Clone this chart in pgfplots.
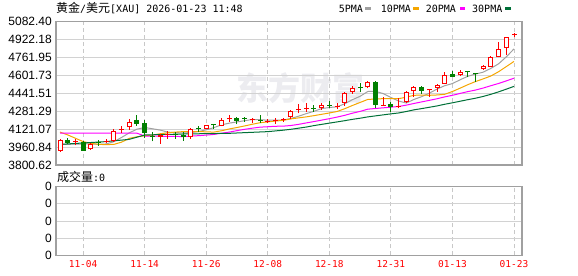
\documentclass[border=0pt]{standalone}
\usepackage{fontspec}
\setmainfont{Liberation Sans}
\newfontfamily\cjk{Noto Sans CJK SC}
\newfontfamily\mono{DejaVu Sans Mono}
\usepackage{pgfplots}
\pgfplotsset{compat=1.18}
\usepackage{pgfplotstable}

\definecolor{cred}{RGB}{255,0,0}
\definecolor{cgreen}{RGB}{0,128,0}
\definecolor{maA}{RGB}{160,160,160}
\definecolor{maB}{RGB}{245,166,0}
\definecolor{maC}{RGB}{255,0,255}
\definecolor{maD}{RGB}{0,112,56}
\definecolor{gridh}{RGB}{210,210,210}
\definecolor{gridv}{RGB}{200,200,200}
\definecolor{frame}{RGB}{160,160,160}
\definecolor{wm}{RGB}{236,236,240}

% up candles: x open high low close
\pgfplotstableread{
x o h l c
0 3930 4035 3915 4025
2 4005 4031 3977 4009
4 3941 3995 3935 3986
6 4010 4035 3995 4019
7 4019 4120 4010 4108
8 4114 4150 4090 4123
9 4139 4210 4115 4189
13 4049 4077 3990 4065
14 4066 4107 4035 4072
17 4048 4131 4037 4122
19 4126 4160 4120 4155
21 4153 4221 4147 4206
22 4209 4247 4187 4215
25 4202 4217 4172 4207
27 4187 4212 4172 4192
28 4192 4217 4167 4199
29 4202 4223 4187 4214
30 4227 4293 4209 4281
31 4292 4347 4263 4299
32 4302 4353 4277 4307
34 4308 4359 4293 4335
36 4322 4359 4299 4329
37 4353 4454 4329 4442
38 4454 4508 4436 4490
40 4496 4555 4487 4543
42 4332 4412 4327 4337
44 4322 4397 4307 4329
45 4362 4463 4356 4451
46 4460 4508 4412 4496
48 4467 4478 4412 4472
49 4493 4526 4457 4514
50 4529 4633 4523 4603
52 4603 4651 4597 4633
55 4657 4696 4651 4687
56 4681 4776 4675 4764
57 4770 4905 4764 4836
58 4845 4949 4785 4943
59 4962 4985 4943 4967
}\uptable

% down candles: x open high low close
\pgfplotstableread{
x o h l c
1 4024 4045 3986 4001
3 4010 4019 3926 3929
5 4010 4025 3975 4001
10 4204 4248 4150 4168
11 4174 4200 4041 4090
12 4063 4095 4012 4055
15 4072 4099 4037 4065
16 4072 4092 4017 4051
18 4127 4152 4097 4122
20 4159 4167 4127 4155
23 4217 4227 4167 4197
24 4217 4232 4187 4213
26 4202 4247 4172 4197
33 4309 4337 4277 4305
35 4332 4377 4307 4327
39 4493 4532 4454 4487
41 4543 4552 4307 4337
43 4344 4367 4278 4320
47 4502 4508 4436 4466
51 4615 4645 4585 4591
53 4642 4644 4585 4630
54 4621 4624 4547 4612
}\downtable

\begin{document}
\begin{tikzpicture}
\path[use as bounding box] (0bp,0bp) rectangle (578bp,276bp);

% watermark
\node[anchor=center, text=wm, inner sep=0pt, font=\cjk\bfseries\fontsize{32bp}{32bp}\selectfont] at (300bp,188bp) {东方财富};

\begin{axis}[
  at={(56bp,111bp)}, anchor=south west,
  width=466bp, height=143.3bp, scale only axis,
  xmin=-0.52, xmax=60.04,
  ymin=3800.62, ymax=5082.40,
  xtick={3,11,19,27,35,43,51,59}, xticklabels={,,,,,,,},
  ytick={3800.62,3960.84,4121.07,4281.29,4441.51,4601.73,4761.95,4922.18,5082.40},
  yticklabels={3800.62,3960.84,4121.07,4281.29,4441.51,4601.73,4761.95,4922.18,5082.40},
  yticklabel style={font=\fontsize{12bp}{12bp}\selectfont, inner sep=0pt, text=black},
  yticklabel shift=4bp,
  major tick length=0pt,
  grid=major,
  x grid style={draw=gridv, line width=1bp, dash pattern=on 4bp off 3bp},
  y grid style={draw=gridh, line width=1bp},
  axis line style={draw=frame, line width=1.5bp},
  clip=true,
]
% moving averages
\addplot[maA, line width=1bp, mark=none] coordinates {(0,3985)(1,3985)(2,3988)(3,3988)(4,3990)(5,3985)(6,3989)(7,4009)(8,4047)(9,4088)(10,4121)(11,4136)(12,4125)(13,4113)(14,4095)(15,4090)(16,4088)(17,4090)(18,4100)(19,4115)(20,4135)(21,4160)(22,4175)(23,4186)(24,4197)(25,4208)(26,4206)(27,4201)(28,4202)(29,4202)(30,4217)(31,4237)(32,4260)(33,4281)(34,4305)(35,4315)(36,4321)(37,4348)(38,4385)(39,4415)(40,4458)(41,4460)(42,4439)(43,4405)(44,4373)(45,4355)(46,4387)(47,4412)(48,4443)(49,4480)(50,4510)(51,4529)(52,4563)(53,4594)(54,4614)(55,4631)(56,4665)(57,4706)(58,4768)(59,4839)};
\addplot[maB, line width=1bp, mark=none] coordinates {(0,4095)(1,4070)(2,4040)(3,4010)(4,3995)(5,3985)(6,3983)(7,3985)(8,4005)(9,4039)(10,4053)(11,4062)(12,4067)(13,4080)(14,4089)(15,4095)(16,4099)(17,4100)(18,4100)(19,4097)(20,4095)(21,4107)(22,4123)(23,4136)(24,4150)(25,4165)(26,4179)(27,4186)(28,4194)(29,4200)(30,4213)(31,4222)(32,4231)(33,4242)(34,4254)(35,4266)(36,4279)(37,4304)(38,4333)(39,4360)(40,4387)(41,4391)(42,4394)(43,4395)(44,4394)(45,4407)(46,4424)(47,4426)(48,4424)(49,4427)(50,4433)(51,4458)(52,4488)(53,4519)(54,4547)(55,4571)(56,4597)(57,4635)(58,4681)(59,4727)};
\addplot[maC, line width=1bp, mark=none] coordinates {(0,4085)(10,4085)(11,4060)(16,4055)(18,4063)(19,4068)(20,4074)(21,4085)(22,4095)(23,4108)(24,4120)(25,4130)(26,4139)(27,4143)(28,4147)(29,4148)(30,4154)(31,4164)(32,4177)(33,4189)(34,4202)(35,4215)(36,4229)(37,4245)(38,4264)(39,4280)(40,4300)(41,4306)(42,4312)(43,4318)(44,4324)(45,4336)(46,4351)(47,4365)(48,4379)(49,4393)(50,4410)(51,4424)(52,4441)(53,4457)(54,4471)(55,4489)(56,4510)(57,4530)(58,4553)(59,4577)};
\addplot[maD, line width=1bp, mark=none] coordinates {(0,3985)(6,4010)(9,4030)(11,4069)(16,4078)(22,4084)(27,4099)(29,4112)(30,4120)(31,4130)(32,4140)(33,4153)(34,4164)(35,4175)(36,4186)(37,4197)(38,4209)(39,4219)(40,4231)(41,4240)(42,4249)(43,4258)(44,4266)(45,4279)(46,4294)(47,4305)(48,4317)(49,4329)(50,4344)(51,4357)(52,4371)(53,4385)(54,4398)(55,4414)(56,4433)(57,4455)(58,4479)(59,4504)};

% wicks
\addplot[draw=none, mark=none, forget plot,
  error bars/.cd, y dir=plus, y explicit, error mark=none,
  error bar style={draw=cred, line width=1bp}]
  table[x=x, y=l, y error expr=\thisrow{h}-\thisrow{l}] {\uptable};
\addplot[draw=none, mark=none, forget plot,
  error bars/.cd, y dir=plus, y explicit, error mark=none,
  error bar style={draw=cgreen, line width=1bp}]
  table[x=x, y=l, y error expr=\thisrow{h}-\thisrow{l}] {\downtable};
% bodies
\addplot[draw=none, mark=none, forget plot,
  error bars/.cd, y dir=plus, y explicit, error mark=none,
  error bar style={draw=cred, line width=5bp}]
  table[x=x, y=o, y error expr={max(\thisrow{c}-\thisrow{o},9)}] {\uptable};
\addplot[draw=none, mark=none, forget plot,
  error bars/.cd, y dir=plus, y explicit, error mark=none,
  error bar style={draw=white, line width=3bp}]
  table[x=x, y expr=\thisrow{o}+9, y error expr={max(\thisrow{c}-\thisrow{o}-18,0)}] {\uptable};
\addplot[draw=none, mark=none, forget plot,
  error bars/.cd, y dir=plus, y explicit, error mark=none,
  error bar style={draw=cgreen, line width=5bp}]
  table[x=x, y=c, y error expr={max(\thisrow{o}-\thisrow{c},9)}] {\downtable};
\end{axis}

\begin{axis}[
  at={(56bp,20.7bp)}, anchor=south west,
  width=466bp, height=68.6bp, scale only axis,
  xmin=-0.52, xmax=60.04,
  ymin=0, ymax=4,
  xtick={3,11,19,27,35,43,51,59},
  xticklabels={11-04,11-14,11-26,12-08,12-18,12-31,01-13,01-23},
  xticklabel style={font=\mono\fontsize{9.5bp}{9.5bp}\selectfont, text=cred, inner sep=0pt},
  xticklabel shift=5bp,
  ytick={0,1,2,3,4},
  yticklabels={0,0,0,0,0},
  yticklabel style={font=\fontsize{12bp}{12bp}\selectfont, inner sep=0pt, text=black},
  yticklabel shift=4bp,
  major tick length=0pt,
  grid=major,
  x grid style={draw=gridv, line width=1bp, dash pattern=on 4bp off 3bp},
  y grid style={draw=gridh, line width=1bp},
  axis line style={draw=frame, line width=1.5bp},
]
\addplot[draw=none, mark=none] coordinates {(0,0)};
\end{axis}

% title
\node[anchor=base west, inner sep=0pt] at (56bp,263bp)
  {{\cjk\fontsize{12bp}{12bp}\selectfont 黄金}{\mono\fontsize{10bp}{10bp}\selectfont /}{\cjk\fontsize{12bp}{12bp}\selectfont 美元}{\mono\fontsize{10bp}{10bp}\selectfont [XAU] 2026-01-23 11:48}};
% legend
\node[anchor=base west, inner sep=0pt, font=\mono\fontsize{10bp}{10bp}\selectfont] at (338.7bp,263.3bp) {5PMA};
\fill[maA] (365bp,265.8bp) rectangle (371bp,268.8bp);
\node[anchor=base west, inner sep=0pt, font=\mono\fontsize{10bp}{10bp}\selectfont] at (380.7bp,263.3bp) {10PMA};
\fill[maB] (413bp,265.8bp) rectangle (419bp,268.8bp);
\node[anchor=base west, inner sep=0pt, font=\mono\fontsize{10bp}{10bp}\selectfont] at (425.7bp,263.3bp) {20PMA};
\fill[maC] (459.5bp,265.8bp) rectangle (465bp,268.8bp);
\node[anchor=base west, inner sep=0pt, font=\mono\fontsize{10bp}{10bp}\selectfont] at (472bp,263.3bp) {30PMA};
\fill[maD] (505bp,265.8bp) rectangle (511bp,268.8bp);
% volume caption
\node[anchor=base west, inner sep=0pt] at (57bp,94bp)
  {{\cjk\fontsize{12bp}{12bp}\selectfont 成交量}{\mono\fontsize{10bp}{10bp}\selectfont :0}};
\end{tikzpicture}
\end{document}
